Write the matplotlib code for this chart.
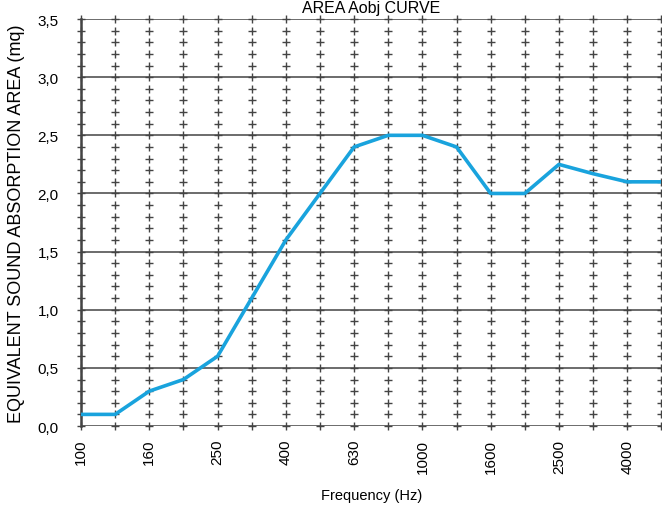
import numpy as np
import matplotlib

matplotlib.use("Agg")
import matplotlib.pyplot as plt

plt.rcParams["font.family"] = ["Liberation Sans", "DejaVu Sans"]

# third-octave bands (Hz) and equivalent absorption area (m2)
freqs = ["100", "125", "160", "200", "250", "315", "400", "500", "630",
         "800", "1000", "1250", "1600", "2000", "2500", "3150", "4000", "5000"]
area = [0.1, 0.1, 0.3, 0.4, 0.6, 1.1, 1.6, 2.0, 2.4,
        2.5, 2.5, 2.4, 2.0, 2.0, 2.25, 2.17, 2.1, 2.1]
y_ticks = [0.0, 0.5, 1.0, 1.5, 2.0, 2.5, 3.0, 3.5]
y_labels = ["0,0", "0,5", "1,0", "1,5", "2,0", "2,5", "3,0", "3,5"]

fig = plt.figure(figsize=(6.62, 5.10), dpi=100)
ax = fig.add_axes([0.1224, 0.1627, 0.8766, 0.798])

x = np.arange(len(freqs))
grid_col = "#444444"

# minor grid crosses
minor_y = np.round(np.arange(0.0, 3.51, 0.1), 2)
gx, gy = np.meshgrid(x, minor_y)
ax.plot(gx.ravel(), gy.ravel(), ls="none", marker="+", ms=6, mew=1.0,
        color=grid_col, zorder=1, clip_on=False)

# major horizontal lines
for yv in y_ticks:
    ax.axhline(yv, color=grid_col, lw=1.1, zorder=1)

ax.plot(x, area, color="#19a3dd", lw=2.6, zorder=3, solid_joinstyle="round")

ax.set_xlim(0, len(freqs) - 1)
ax.set_ylim(0, 3.5)
ax.set_xticks(x[::2])
ax.set_xticklabels(freqs[::2], rotation=90, fontsize=11)
ax.set_yticks(y_ticks)
ax.set_yticklabels(y_labels, fontsize=11)
ax.tick_params(axis="y", length=0, pad=16)
ax.tick_params(axis="x", length=0, pad=9)

for s in ["top", "right", "bottom"]:
    ax.spines[s].set_visible(False)
ax.spines["left"].set_linewidth(1.8)
ax.spines["left"].set_color(grid_col)

ax.set_xlabel("Frequency (Hz)", fontsize=10.5, labelpad=11)
ax.set_ylabel("EQUIVALENT SOUND ABSORPTION AREA (mq)", fontsize=13, labelpad=9)
fig.text(0.56, 0.999, "AREA Aobj CURVE", ha="center", va="top", fontsize=11.5)

fig.savefig("out.png", dpi=100)
